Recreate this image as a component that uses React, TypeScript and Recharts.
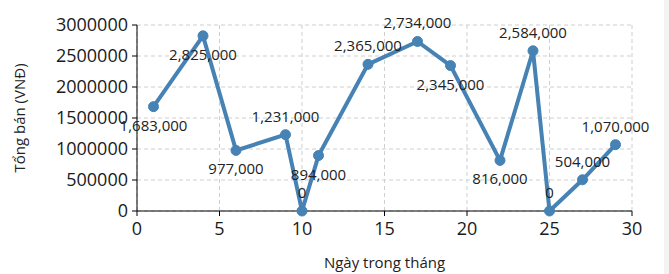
import { LineChart, Line, XAxis, YAxis, CartesianGrid, LabelList } from "recharts";

const days = [1, 4, 6, 9, 10, 11, 14, 17, 19, 22, 24, 25, 27, 29];
const totals = [
  1683000, 2825000, 977000, 1231000, 0, 894000, 2365000, 2734000, 2345000,
  816000, 2584000, 0, 504000, 1070000,
];
// where each value label sits relative to its point
const labelSide = [
  "below", "below", "below", "above", "above", "below", "above",
  "above", "below", "below", "above", "above", "above", "above",
];
const xTicks = [0, 5, 10, 15, 20, 25, 30];
const yTicks = [0, 500000, 1000000, 1500000, 2000000, 2500000, 3000000];

const data = days.map((d, i) => ({ day: d, total: totals[i] }));

const FONT = '"Open Sans", "Noto Sans", sans-serif';
const LINE = "#4682b4";

function ValueLabel(props: any) {
  const { x, y, value, index } = props;
  const dy = labelSide[index] === "above" ? -19 : 18;
  return (
    <text
      x={x}
      y={y + dy}
      textAnchor="middle"
      dominantBaseline="central"
      fontFamily={FONT}
      fontSize={15}
      fill="#222"
    >
      {Number(value).toLocaleString("en-US")}
    </text>
  );
}

function YTitle(props: any) {
  const vb = props.viewBox || {};
  const cy = vb.height ? vb.y + vb.height / 2 : 118;
  return (
    <text
      x={19}
      y={cy}
      transform={`rotate(-90 19 ${cy})`}
      textAnchor="middle"
      dominantBaseline="central"
      fontFamily={FONT}
      fontSize={15}
      fill="#222"
    >
      Tổng bán (VNĐ)
    </text>
  );
}

export default function App() {
  return (
    <div
      style={{
        position: "absolute",
        left: 0,
        top: 0,
        width: 669,
        height: 274,
        background: "#fff",
      }}
    >
      <div
        style={{
          position: "absolute",
          left: 664,
          top: 0,
          width: 5,
          height: 274,
          background: "#f3f3f3",
        }}
      />
      <LineChart
        width={669}
        height={274}
        data={data}
        margin={{ top: 25, right: 37, bottom: 0, left: 0 }}
      >
        <CartesianGrid stroke="#cfcfcf" strokeDasharray="4 3" />
        <XAxis
          dataKey="day"
          type="number"
          domain={[0, 30]}
          ticks={xTicks}
          height={63}
          tickSize={5}
          tickMargin={6}
          axisLine={{ stroke: "#000" }}
          tickLine={{ stroke: "#000" }}
          tick={{ fill: "#1a1a1a", fontSize: 18, fontFamily: FONT }}
          label={{
            value: "Ngày trong tháng",
            position: "insideBottom",
            offset: 6,
            fill: "#222",
            fontSize: 15,
            fontFamily: FONT,
          }}
        />
        <YAxis
          type="number"
          domain={[0, 3000000]}
          ticks={yTicks}
          width={137}
          tickSize={5}
          tickMargin={4}
          axisLine={{ stroke: "#000" }}
          tickLine={{ stroke: "#000" }}
          tick={{ fill: "#1a1a1a", fontSize: 18, fontFamily: FONT }}
          label={YTitle}
        />
        <Line
          dataKey="total"
          stroke={LINE}
          strokeWidth={4}
          dot={{ r: 5, fill: LINE, stroke: LINE, strokeWidth: 1 }}
          isAnimationActive={false}
        >
          <LabelList dataKey="total" content={ValueLabel} />
        </Line>
      </LineChart>
    </div>
  );
}
